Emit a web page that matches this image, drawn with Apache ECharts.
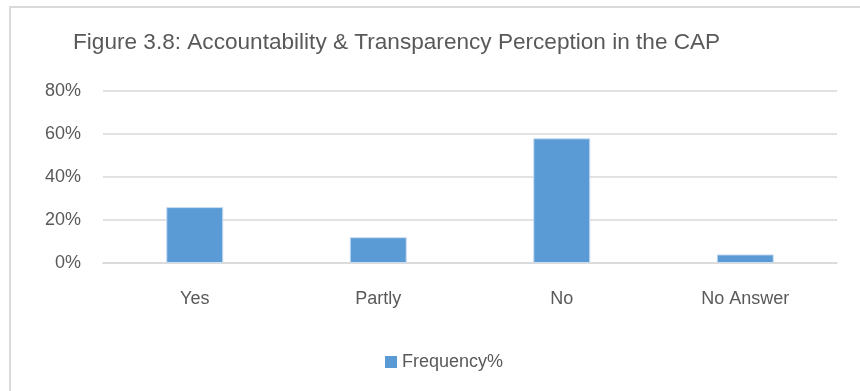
<!DOCTYPE html>
<html>
<head>
<meta charset="utf-8">
<script src="https://cdn.jsdelivr.net/npm/echarts@6/dist/echarts.min.js"></script>
<style>
  html, body { margin: 0; padding: 0; background: #fff; }
  #chart { width: 860px; height: 391px; }
</style>
</head>
<body>
<div id="chart"></div>
<script>
// Survey responses: share of respondents per answer
const categories = ['Yes', 'Partly', 'No', 'No Answer'];
const frequencyPct = [26, 12, 58, 4];
const seriesName = 'Frequency%';
const titleText = 'Figure 3.8: Accountability & Transparency Perception in the CAP';

const FONT = '"Liberation Sans Narrow", "Arial Narrow", "Liberation Sans", sans-serif';
const TEXT = '#595959';
const GRID = '#d9d9d9';

const chart = echarts.init(document.getElementById('chart'));
chart.setOption({
  animation: false,
  backgroundColor: '#fff',
  graphic: [{
    type: 'rect',
    shape: { x: 10, y: 7, width: 900, height: 420 },
    style: { fill: 'none', stroke: '#d9d9d9', lineWidth: 2 },
    silent: true
  }],
  title: {
    text: titleText,
    left: 68,
    top: 26,
    textStyle: { fontFamily: FONT, fontSize: 22.6, fontWeight: 'normal', color: TEXT }
  },
  legend: {
    data: [seriesName],
    left: 380,
    top: 348,
    itemWidth: 12,
    itemHeight: 12,
    itemGap: 6,
    icon: 'rect',
    itemStyle: { borderWidth: 0 },
    textStyle: { fontFamily: FONT, fontSize: 18, color: TEXT }
  },
  grid: { left: 103, right: 23, top: 91, bottom: 128 },
  xAxis: {
    type: 'category',
    data: categories,
    axisLine: { lineStyle: { color: GRID, width: 1.5 } },
    axisTick: { show: false },
    axisLabel: { fontFamily: FONT, fontSize: 18, color: TEXT, margin: 27 }
  },
  yAxis: {
    type: 'value',
    min: 0,
    max: 80,
    interval: 20,
    axisLine: { show: false },
    axisTick: { show: false },
    splitLine: { lineStyle: { color: GRID, width: 1.5 } },
    axisLabel: { fontFamily: FONT, fontSize: 18, color: TEXT, margin: 22, formatter: '{value}%' }
  },
  series: [{
    name: seriesName,
    type: 'bar',
    data: frequencyPct,
    barWidth: 57,
    itemStyle: { color: '#5b9bd5', borderColor: '#c9dcf0', borderWidth: 1 }
  }]
});
</script>
</body>
</html>
